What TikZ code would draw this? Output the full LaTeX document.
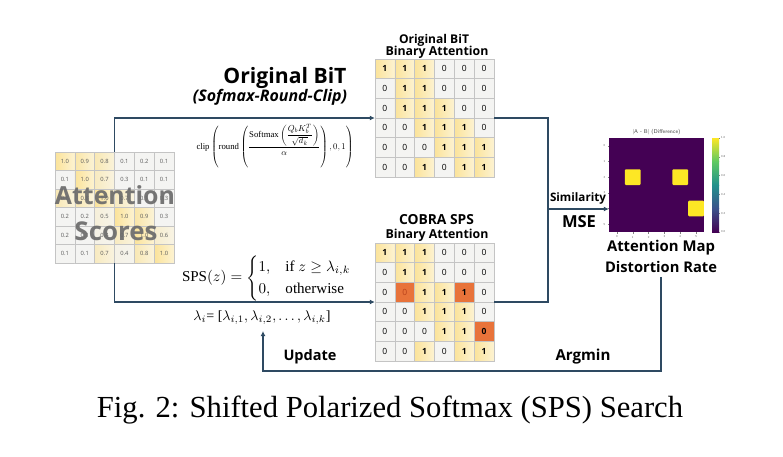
\documentclass[tikz,border=0pt]{standalone}
\usepackage{fontspec}
\usepackage{amsmath}
\setmainfont{Liberation Serif}
\newfontfamily\cbfont{Open Sans}
\usetikzlibrary{arrows.meta,calc}
\definecolor{lineblue}{HTML}{2E4A62}
\definecolor{ya}{HTML}{FBE39A}
\definecolor{yb}{HTML}{FDF3D2}
\definecolor{cellg}{HTML}{F4F4F2}
\definecolor{gridg}{HTML}{C4C4C4}
\definecolor{orng}{HTML}{E8733A}
\definecolor{orngtxt}{HTML}{B8401A}
\definecolor{vir0}{HTML}{440154}
\definecolor{vir1}{HTML}{3B528B}
\definecolor{vir2}{HTML}{21918C}
\definecolor{vir3}{HTML}{5EC962}
\definecolor{vir4}{HTML}{FDE725}
\newcommand{\W}[2]{\resizebox{#1pt}{!}{#2}}
\tikzset{
  conn/.style={draw=lineblue,line width=1.5pt,-{Latex[length=5pt,width=5pt]}},
  plainline/.style={draw=lineblue,line width=1.5pt},
  bcell/.style={draw=gridg,line width=0.6pt,minimum width=19.83pt,minimum height=19.67pt,inner sep=0pt,font=\cbfont\fontsize{8.5}{10}\selectfont},
  cy/.style={left color=ya,right color=yb,font=\cbfont\bfseries\fontsize{8.5}{10}\selectfont},
  cg/.style={fill=cellg},
  co/.style={fill=orng,font=\cbfont\bfseries\fontsize{8.5}{10}\selectfont},
  cq/.style={fill=orng,text=orngtxt},
  scell/.style={draw=gridg,line width=0.5pt,minimum width=19.83pt,minimum height=18.5pt,inner sep=0pt,text=black!65,font=\cbfont\fontsize{5.8}{7}\selectfont},
  lbl/.style={inner sep=0pt},
  tick/.style={inner sep=0pt,text=black!60,font=\sffamily\fontsize{3}{3.5}\selectfont},
}
\begin{document}
\begin{tikzpicture}[x=1pt,y=-1pt]
\useasboundingbox (0,0) rectangle (783,456);
\fill[white] (0,0) rectangle (783,456);

% ---------- attention scores matrix ----------
\foreach \row [count=\r] in {{1.0,0.9,0.8,0.1,0.2,0.1},{0.1,1.0,0.7,0.3,0.1,0.1},{0.8,0.8,1.0,0.7,0.1,0.3},{0.2,0.2,0.5,1.0,0.9,0.3},{0.2,0.1,0.4,0.7,1.0,0.6},{0.1,0.1,0.7,0.4,0.8,1.0}}{
  \foreach \v [count=\c] in \row {
    \pgfmathtruncatemacro\p{max(0,min(100,(\v-0.3)/0.7*100))}
    \node[scell,left color=ya!\p!cellg,right color=yb!\p!cellg] (s-\r-\c) at ({55+(\c-0.5)*19.83},{152+(\r-0.5)*18.5}) {\v};
  }
}
\node[inner sep=0pt,minimum width=119pt,minimum height=111pt] (S) at (114.5,207.5) {};
\node[lbl,text=black!58,opacity=0.92] (att1) at (115,195) {\W{120}{\cbfont\bfseries Attention}};
\node[lbl,text=black!58,opacity=0.92] (att2) at (116,231) {\W{83}{\cbfont\bfseries Scores}};

% ---------- original BiT binary attention ----------
\foreach \row [count=\r] in {{1/cy,1/cy,1/cy,0/cg,0/cg,0/cg},{0/cg,1/cy,1/cy,0/cg,0/cg,0/cg},{0/cg,1/cy,1/cy,1/cy,0/cg,0/cg},{0/cg,0/cg,1/cy,1/cy,1/cy,0/cg},{0/cg,0/cg,0/cg,1/cy,1/cy,1/cy},{0/cg,0/cg,1/cy,0/cg,1/cy,1/cy}}{
  \foreach \v/\s [count=\c] in \row {
    \node[bcell,\s] (t-\r-\c) at ({375+(\c-0.5)*19.83},{59+(\r-0.5)*19.67}) {\v};
  }
}
\node[inner sep=0pt,minimum width=119pt,minimum height=118pt] (T) at (434.5,118) {};
\node[lbl] (tt1) at (434,40) {\W{70}{\cbfont\bfseries Original BiT}};
\node[lbl] (tt2) at (437,52) {\W{103}{\cbfont\bfseries Binary Attention}};

% ---------- COBRA SPS binary attention ----------
\foreach \row [count=\r] in {{1/cy,1/cy,1/cy,0/cg,0/cg,0/cg},{0/cg,1/cy,1/cy,0/cg,0/cg,0/cg},{0/cg,0/cq,1/cy,1/cy,1/co,0/cg},{0/cg,0/cg,1/cy,1/cy,1/cy,0/cg},{0/cg,0/cg,0/cg,1/cy,1/cy,0/co},{0/cg,0/cg,1/cy,0/cg,1/cy,1/cy}}{
  \foreach \v/\s [count=\c] in \row {
    \node[bcell,\s] (b-\r-\c) at ({375+(\c-0.5)*19.83},{243+(\r-0.5)*19.67}) {\v};
  }
}
\node[inner sep=0pt,minimum width=119pt,minimum height=118pt] (B) at (434.5,302) {};
\node[lbl] (bt1) at (436.5,220) {\W{75}{\cbfont\bfseries COBRA SPS}};
\node[lbl] (bt2) at (437,235) {\W{103}{\cbfont\bfseries Binary Attention}};

% ---------- labels and formulas ----------
\node[lbl] (ob) at (285,78) {\W{123}{\cbfont\bfseries Original BiT}};
\node[lbl] (src) at (270,97) {\W{154}{\cbfont\bfseries\itshape (Sofmax-Round-Clip)}};
\node[lbl] (F1) at (275,146) {\W{157}{$\mathrm{clip}\left(\mathrm{round}\left(\dfrac{\mathrm{Softmax}\left(\dfrac{Q_bK_b^T}{\sqrt{d_k}}\right)}{\alpha}\right),0,1\right)$}};
\node[lbl] (F2) at (267,278) {\W{170}{$\mathrm{SPS}(z)=\begin{cases}1, & \text{if } z\geq\lambda_{i,k}\\ 0, & \text{otherwise}\end{cases}$}};
\node[lbl] (L) at (262,318) {\W{137}{$\lambda_i$= [$\lambda_{i,1}, \lambda_{i,2},\ldots, \lambda_{i,k}$]}};

% ---------- difference heatmap ----------
\node[draw=none,fill=vir0,inner sep=0pt,minimum width=95pt,minimum height=94pt] (H) at (656.5,185) {};
\foreach \cx/\ry in {1/2,4/2,5/4}{
  \fill[vir4,rounded corners=1pt] ({609+\cx*15.83},{138+\ry*15.67}) rectangle ++(15.83,15.67);
}
\foreach \i in {0,...,5}{
  \node[tick] at (604.5,{138+(\i+0.5)*15.67}) {\i};
  \draw[black!50,line width=0.3pt] (609,{138+(\i+0.5)*15.67}) -- ++(-1.5,0);
  \node[tick] at ({609+(\i+0.5)*15.83},237) {\i};
  \draw[black!50,line width=0.3pt] ({609+(\i+0.5)*15.83},232) -- ++(0,1.5);
}
\node[lbl,font=\sffamily\fontsize{5.5}{6}\selectfont,text=black!75] (htitle) at (656.5,132) {|A - B| (Difference)};
% colorbar
\shade[bottom color=vir0,top color=vir1] (712,232) rectangle (719,208.5);
\shade[bottom color=vir1,top color=vir2] (712,208.5) rectangle (719,185);
\shade[bottom color=vir2,top color=vir3] (712,185) rectangle (719,161.5);
\shade[bottom color=vir3,top color=vir4] (712,161.5) rectangle (719,138);
\foreach \t/\k in {0.0/0,0.2/1,0.4/2,0.6/3,0.8/4,1.0/5}{
  \node[tick,anchor=west] at (721,{232-\k*18.8}) {\t};
  \draw[black!50,line width=0.3pt] (719,{232-\k*18.8}) -- ++(1.2,0);
}
\node[lbl] (D1) at (661,248) {\W{108}{\cbfont\bfseries Attention Map}};
\node[lbl] (D) at (661,267) {\W{112}{\cbfont\bfseries Distortion Rate}};

\node[lbl] (sim) at (578,198) {\W{56}{\cbfont\bfseries Similarity}};
\node[lbl] (mse) at (579,222) {\W{34}{\cbfont\bfseries MSE}};
\node[lbl] (upd) at (310,357) {\W{53}{\cbfont\bfseries Update}};
\node[lbl] (arg) at (583,357) {\W{55}{\cbfont\bfseries Argmin}};

% ---------- connectors ----------
\draw[conn] (S.north) |- (T.west);
\draw[conn] (S.south) |- (B.west);
\coordinate (R) at (548,121);
\draw[plainline] (T.east) -- (T.east -| R) |- (B.east);
\coordinate (J) at (548,209);
\draw[conn] (J) -- (J -| H.west);
\coordinate (loopc) at (263,371);
\draw[conn] ([yshift=-4pt]D.south) |- (loopc) -- (L.south -| loopc) [shorten >=6pt];

% ---------- caption ----------
\node[lbl] (cap) at (390,410) {\W{586}{Fig. 2: Shifted Polarized Softmax (SPS) Search}};
\end{tikzpicture}
\end{document}
